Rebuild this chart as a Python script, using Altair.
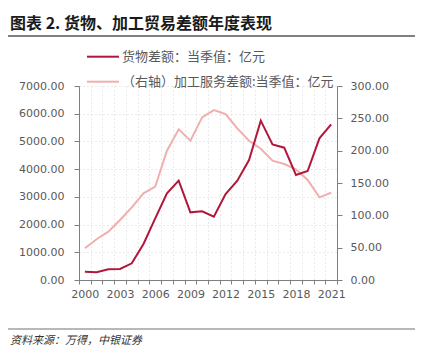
import altair as alt
import pandas as pd

years = [str(y) for y in range(2000, 2022)]
goods_balance = [300, 280, 385, 397, 601, 1299, 2225, 3127, 3584, 2442, 2478,
                 2285, 3103, 3584, 4330, 5749, 4895, 4775, 3788, 3933, 5112, 5617]
processing_balance = [49, 63, 74.7, 92.8, 112.3, 134, 144.3, 200, 233, 215.4, 251.5,
                      262.8, 256.6, 234.5, 215.4, 203, 184.5, 179.3, 171, 154.6, 127.8, 135]

title_text = "图表 2. 货物、加工贸易差额年度表现"
legend_goods = "货物差额：当季值：亿元"
legend_proc = "（右轴）加工服务差额:当季值：亿元"
source_text = "资料来源：万得，中银证券"

DARK = "#B0173A"
LIGHT = "#F0AEAE"
AXIS = "#7f7f7f"
LABEL = "#595959"
FONT = "DejaVu Sans"
CJK = "Noto Sans CJK SC"

df = pd.DataFrame({"year": years, "goods": goods_balance, "proc": processing_balance})

x_enc = alt.X("year:O", title=None, sort=years,
              scale=alt.Scale(paddingInner=0, paddingOuter=0),
              axis=alt.Axis(labelAngle=0, tickBand="extent", grid=True,
                            gridDash=[1, 3], gridColor="#d4d4d4",
                            labelExpr="(toNumber(datum.value) - 2000) % 3 == 0 ? datum.value : ''",
                            tickSize=4, labelPadding=4, domainColor=AXIS, tickColor=AXIS,
                            labelColor=LABEL, labelFont=FONT, labelFontSize=11))

light = alt.Chart(df).mark_line(color=LIGHT, strokeWidth=2).encode(
    x=x_enc,
    y=alt.Y("proc:Q", title=None,
            scale=alt.Scale(domain=[0, 300], nice=False),
            axis=alt.Axis(orient="right", values=[0, 50, 100, 150, 200, 250, 300],
                          format=".2f", grid=False, tickSize=5, labelPadding=8,
                          domainColor=AXIS, tickColor=AXIS, labelColor=LABEL,
                          labelFont=FONT, labelFontSize=11)),
)

dark = alt.Chart(df).mark_line(color=DARK, strokeWidth=2).encode(
    x=x_enc,
    y=alt.Y("goods:Q", title=None,
            scale=alt.Scale(domain=[0, 7000], nice=False),
            axis=alt.Axis(orient="left", values=[0, 1000, 2000, 3000, 4000, 5000, 6000, 7000],
                          format=".2f", grid=True, gridDash=[1, 3], gridColor="#d4d4d4",
                          tickSize=5, labelPadding=10,
                          domainColor=AXIS, tickColor=AXIS, labelColor=LABEL,
                          labelFont=FONT, labelFontSize=11)),
)

one = alt.Data(values=[{}])

def text(t, x, y, size, color, font=CJK, weight="normal", style="normal"):
    return alt.Chart(one).mark_text(align="left", baseline="middle", fontSize=size,
                                    color=color, font=font, fontWeight=weight,
                                    fontStyle=style).encode(
        x=alt.value(x), y=alt.value(y), text=alt.value(t))

def rule(x1, x2, y, color, w):
    return alt.Chart(one).mark_rule(color=color, strokeWidth=w).encode(
        x=alt.value(x1), x2=alt.value(x2), y=alt.value(y))

decor = [
    text(title_text, -69, -62.5, 16, "#1a1a1a", weight="bold"),
    rule(-71, 336, -50, "#808080", 2),
    rule(8, 40, -29.3, DARK, 2),
    text(legend_goods, 43, -29.3, 13, LABEL),
    rule(8, 40, -4.3, LIGHT, 2),
    text(legend_proc, 43, -4.3, 13, LABEL),
    rule(-71, 336, 243, "#a0a0a0", 1.5),
    text(source_text, -69, 254.5, 11, "#333333", style="italic"),
]

chart = alt.layer(light, dark, *decor).resolve_scale(y="independent").properties(
    width=258, height=194,
    autosize=alt.AutoSizeParams(type="none"),
    padding={"left": 79, "top": 86, "right": 90, "bottom": 72},
).configure_view(stroke=None)

chart.save("out.html", embed_options={"renderer": "svg", "actions": False})
